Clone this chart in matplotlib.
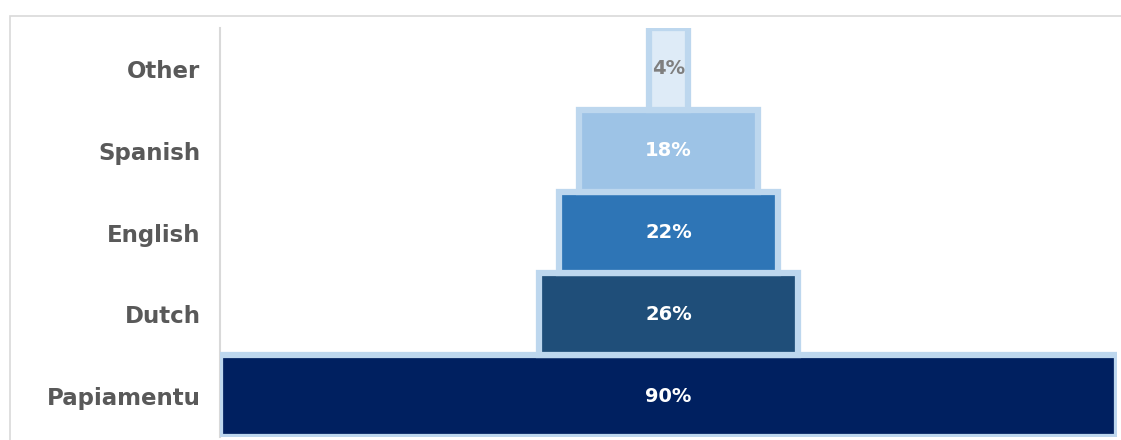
import matplotlib.pyplot as plt
from matplotlib.patches import Rectangle

languages = ['Papiamentu', 'Dutch', 'English', 'Spanish', 'Other']
shares = [90, 26, 22, 18, 4]
fills = ['#002060', '#1F4E79', '#2E75B6', '#9DC3E6', '#DEEBF7']
label_colors = ['white', 'white', 'white', 'white', '#7F7F7F']


def main():
	fig = plt.figure(figsize=(11.21, 4.40), dpi=100)
	# light frame of the chart area
	fig.patches.append(Rectangle((10 / 1121, -0.1), 1.2, (440 - 16) / 440 + 0.1,
		transform=fig.transFigure, fill=False, edgecolor='#D9D9D9', linewidth=1.2))

	ax = fig.add_axes([220 / 1121, 3 / 440, 897 / 1121, 409 / 440])
	ypos = list(range(len(languages)))
	lefts = [-s / 2 for s in shares]
	ax.barh(ypos, shares, left=lefts, height=1.0, color=fills,
		edgecolor='#BDD7EE', linewidth=4.5, zorder=3)

	for y, s, c in zip(ypos, shares, label_colors):
		ax.text(0, y, f'{s}%', ha='center', va='center', color=c,
			fontsize=14, fontweight='bold', zorder=4)

	ax.set_xlim(-45, 45)
	ax.set_ylim(-0.5, 4.5)
	ax.set_yticks(ypos)
	ax.set_yticklabels(languages, fontsize=16.5, fontweight='bold', color='#595959')
	ax.tick_params(axis='y', length=0, pad=14)
	ax.set_xticks([])
	for side in ['top', 'right', 'bottom']:
		ax.spines[side].set_visible(False)
	ax.spines['left'].set_color('#D9D9D9')
	ax.spines['left'].set_linewidth(1.5)

	fig.savefig('out.png', dpi=100)


if __name__ == '__main__':
	main()
